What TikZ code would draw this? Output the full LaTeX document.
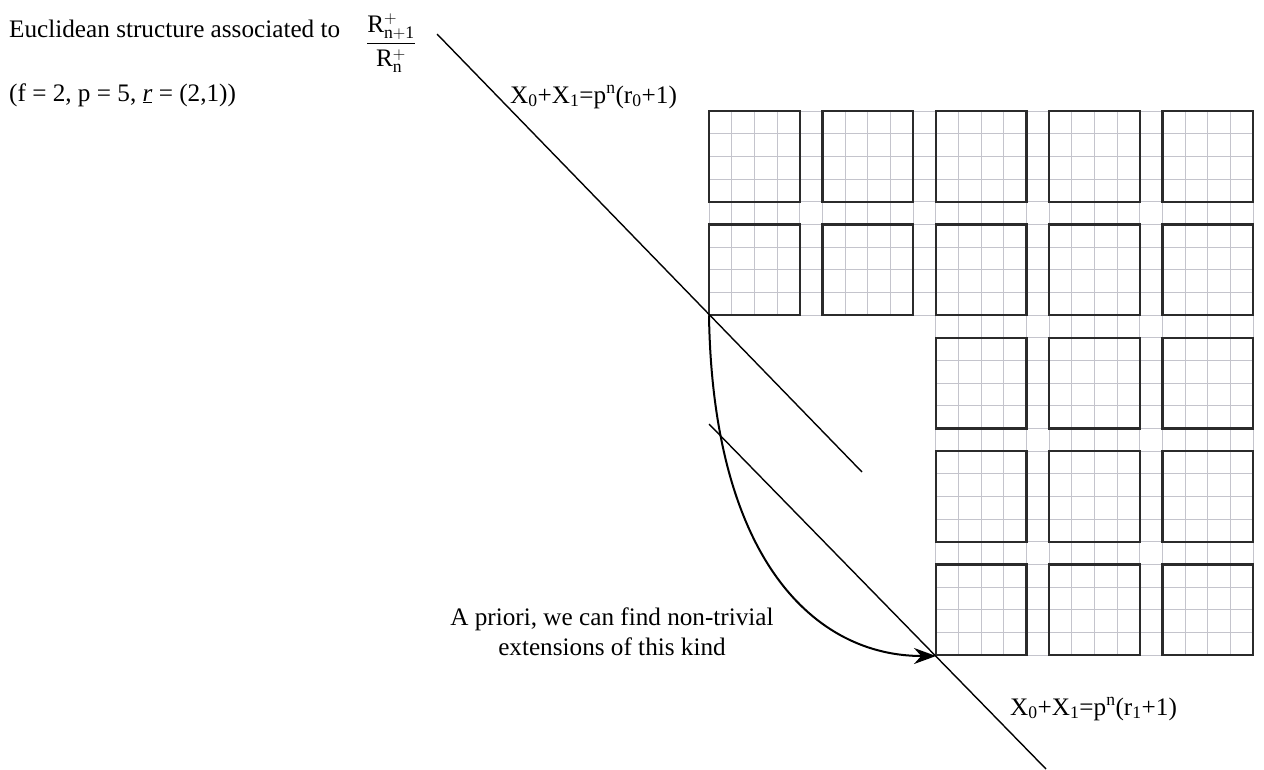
\documentclass[tikz,border=0pt]{standalone}
\usepackage{fontspec}
\setmainfont{Liberation Serif}
\usetikzlibrary{arrows.meta}
\definecolor{gridc}{HTML}{C4C4CC}
\definecolor{sqc}{HTML}{2B2B2B}
\begin{document}
\begin{tikzpicture}[x=1pt,y=-1pt,
  lbl/.style={inner sep=0pt, font=\fontsize{25.2}{30}\selectfont},
  sq/.style={draw=sqc, line width=2.3pt, line join=miter},
  fine/.style={draw=gridc, line width=1pt},
  ln/.style={draw=black, line width=1.4pt},
  arc/.style={draw=black, line width=2pt, -{Stealth[length=22pt,width=16pt]}}]
\useasboundingbox (0,0) rectangle (1264,769);
% light grid
\begin{scope}[shift={(709,111)}]
  \foreach \k in {0,...,24} \draw[fine] (\k*22.68,0) -- (\k*22.68,9*22.68);
  \foreach \m in {0,...,9} \draw[fine] (0,\m*22.68) -- (24*22.68,\m*22.68);
  \foreach \k in {10,...,24} \draw[fine] (\k*22.68,9*22.68) -- (\k*22.68,24*22.68);
  \foreach \m in {10,...,24} \draw[fine] (10*22.68,\m*22.68) -- (24*22.68,\m*22.68);
  % thick squares
  \foreach \i in {0,...,4} \foreach \j in {0,1}
    \draw[sq] (\i*113.4,\j*113.4) rectangle ++(90.72,90.72);
  \foreach \i in {2,...,4} \foreach \j in {2,3,4}
    \draw[sq] (\i*113.4,\j*113.4) rectangle ++(90.72,90.72);
\end{scope}
% coordinates
\coordinate (c0) at (709,316);
\coordinate (c1) at (936,656);
\coordinate (a1) at (437,34);
\coordinate (a2) at (862,472);
\coordinate (b1) at (709,424);
\coordinate (b2) at (1046,769);
% lines
\draw[ln] (a1) -- (a2);
\draw[ln] (b1) -- (b2);
\draw[arc] (c0) .. controls (713,560) and (815,656) .. (c1);
% labels
\node[lbl, anchor=base west] (t1) at (9,37) {Euclidean structure associated to};
\node[lbl, anchor=center] (fr) at (391,43) {$\displaystyle\frac{\mathrm{R}^{+}_{\mathrm{n+1}}}{\mathrm{R}^{+}_{\mathrm{n}}}$};
\node[lbl, anchor=base west] (t2) at (9,101) {(f = 2, p = 5, \underline{\textit{r}} = (2,1))};
\node[lbl, anchor=base west] (l0) at (510,103) {X\textsubscript{0}+X\textsubscript{1}=p\textsuperscript{n}(r\textsubscript{0}+1)};
\node[lbl, anchor=base west] (l1) at (1010,715) {X\textsubscript{0}+X\textsubscript{1}=p\textsuperscript{n}(r\textsubscript{1}+1)};
\node[lbl, align=center, anchor=center] (ap) at (612,632) {A priori, we can find non-trivial\\extensions of this kind};
\end{tikzpicture}
\end{document}
